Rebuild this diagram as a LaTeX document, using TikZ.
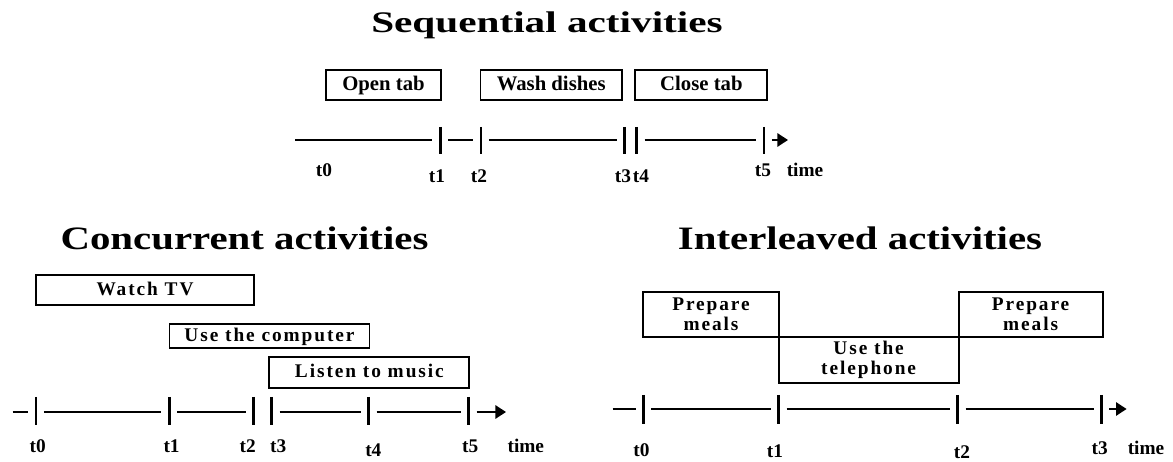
\documentclass[tikz,border=0pt]{standalone}
\usepackage{fontspec}
\setmainfont{Liberation Serif}
\newfontfamily\seqfont{Liberation Serif}[FakeStretch=1.38]
\newfontfamily\bigfont{Liberation Serif}[FakeStretch=1.25]
\newfontfamily\spacedfont{Liberation Serif}[LetterSpace=10]
\usetikzlibrary{arrows.meta}

\tikzset{
  seqtitle/.style={font=\seqfont\bfseries\fontsize{17}{20}\selectfont, anchor=base},
  bigtitle/.style={font=\bigfont\bfseries\fontsize{18.6}{22}\selectfont, anchor=base},
  boxline/.style={draw, line width=1.1pt, inner sep=0pt, align=center},
  onerow/.style={text height=0.72em, text depth=0.1em},
  actbox/.style={boxline, onerow, font=\bfseries\fontsize{11.8}{13}\selectfont},
  spacedbox/.style={boxline, font=\spacedfont\bfseries\fontsize{11}{11.6}\selectfont},
  seg/.style={line width=1.2pt, shorten <=4.5pt, shorten >=4.5pt},
  timearrow/.style={seg, shorten >=0pt, -{Triangle[length=6pt,width=7.5pt]}},
  tickmark/.style={line width=1.5pt},
  tlabel/.style={font=\bfseries\fontsize{11}{13}\selectfont, anchor=base},
}

\begin{document}
\begin{tikzpicture}[x=0.02cm, y=-0.02cm]
        \useasboundingbox (0,0) rectangle (1173,462);

        % sequential
        \node[seqtitle] (seqhead) at (547,33) {Sequential activities};
        \node[actbox, minimum width=2.31cm, minimum height=0.6cm] (opentab) at (383.5,85) {Open tab};
        \node[actbox, minimum width=2.83cm, minimum height=0.6cm] (washdishes) at (551.2,85) {Wash dishes};
        \node[actbox, minimum width=2.64cm, minimum height=0.6cm] (closetab) at (701.4,85) {Close tab};

        \coordinate (sq0) at (295,140);
        \coordinate (sq1) at (440.4,140);
        \coordinate (sq2) at (481,140);
        \coordinate (sq3) at (624.8,140);
        \coordinate (sq4) at (636.8,140);
        \coordinate (sq5) at (764,140);
        \coordinate (sqend) at (788,140);
        \draw[seg, shorten <=0pt] (sq0) -- (sq1);
        \draw[seg] (sq1) -- (sq2);
        \draw[seg] (sq2) -- (sq3);
        \draw[seg] (sq4) -- (sq5);
        \draw[timearrow] (sq5) -- (sqend);
        \foreach \p in {sq1,sq2,sq3,sq4,sq5}
            \draw[tickmark] (\p) ++(0,-13) -- ++(0,27);

        \node[tlabel] (sqt0) at (324,177) {t0};
        \node[tlabel] (sqt1) at (437,183) {t1};
        \node[tlabel] (sqt2) at (479,183) {t2};
        \node[tlabel] (sqt3) at (623,183) {t3};
        \node[tlabel] (sqt4) at (641,183) {t4};
        \node[tlabel] (sqt5) at (763,177) {t5};
        \node[tlabel] (sqtime) at (805,177) {time};

        % concurrent
        \node[bigtitle] (conhead) at (244.5,250) {Concurrent activities};
        \node[spacedbox, onerow, minimum width=4.36cm, minimum height=0.6cm] (watchtv) at (145,290) {Watch TV};
        \node[spacedbox, onerow, minimum width=4.0cm, minimum height=0.48cm] (computer) at (269.5,336) {Use the computer};
        \node[spacedbox, onerow, minimum width=4.0cm, minimum height=0.62cm] (music) at (369.4,372.5) {Listen to music};

        \coordinate (co0) at (12.6,412);
        \coordinate (co1) at (35.9,412);
        \coordinate (co2) at (169.4,412);
        \coordinate (co3) at (253.8,412);
        \coordinate (co4) at (271.7,412);
        \coordinate (co5) at (368.6,412);
        \coordinate (co6) at (468.6,412);
        \coordinate (coend) at (506,412);
        \draw[seg, shorten <=0pt] (co0) -- (co1);
        \draw[seg] (co1) -- (co2);
        \draw[seg] (co2) -- (co3);
        \draw[seg] (co4) -- (co5);
        \draw[seg] (co5) -- (co6);
        \draw[timearrow] (co6) -- (coend);
        \foreach \p in {co1,co2,co3,co4,co5,co6}
            \draw[tickmark] (\p) ++(0,-15) -- ++(0,28);

        \node[tlabel] (cot0) at (37.7,452) {t0};
        \node[tlabel] (cot1) at (171.6,452) {t1};
        \node[tlabel] (cot2) at (247.7,452) {t2};
        \node[tlabel] (cot3) at (278.2,452) {t3};
        \node[tlabel] (cot4) at (373.3,457) {t4};
        \node[tlabel] (cot5) at (470.2,452) {t5};
        \node[tlabel] (cotime) at (525.8,452) {time};

        % interleaved
        \node[bigtitle] (inthead) at (860,250) {Interleaved activities};
        \node[spacedbox, minimum width=2.71cm, minimum height=0.9cm] (meals1) at (711,314.5) {Prepare\\meals};
        \node[spacedbox, minimum width=3.6cm, minimum height=0.92cm] (phone) at (868.6,360) {Use the\\telephone};
        \node[spacedbox, minimum width=2.88cm, minimum height=0.9cm] (meals2) at (1030.6,314.5) {Prepare\\meals};

        \coordinate (in0) at (612.5,409);
        \coordinate (in1) at (643.4,409);
        \coordinate (in2) at (778.7,409);
        \coordinate (in3) at (957.7,409);
        \coordinate (in4) at (1101.5,409);
        \coordinate (inend) at (1126.6,409);
        \draw[seg, shorten <=0pt] (in0) -- (in1);
        \draw[seg] (in1) -- (in2);
        \draw[seg] (in2) -- (in3);
        \draw[seg] (in3) -- (in4);
        \draw[timearrow] (in4) -- (inend);
        \foreach \p in {in1,in2,in3,in4}
            \draw[tickmark] (\p) ++(0,-14) -- ++(0,29);

        \node[tlabel] (int0) at (641.5,457) {t0};
        \node[tlabel] (int1) at (774.9,458) {t1};
        \node[tlabel] (int2) at (962,459) {t2};
        \node[tlabel] (int3) at (1099.6,455) {t3};
        \node[tlabel] (intime) at (1146,455) {time};
    \end{tikzpicture}
\end{document}
